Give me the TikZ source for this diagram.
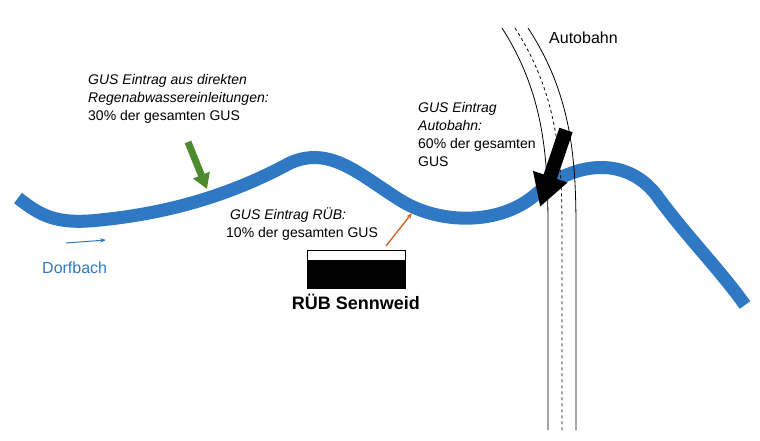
\documentclass[tikz,border=0pt]{standalone}
\usepackage{fontspec}
\setmainfont{Liberation Sans}
\usetikzlibrary{arrows.meta,positioning}
\definecolor{riverblue}{HTML}{2F78C4}
\definecolor{gusgreen}{HTML}{4E8A2E}
\definecolor{rueborange}{HTML}{D0601E}
\tikzset{
  lbl/.style={font=\fontsize{14}{18}\selectfont,align=left,inner sep=0pt},
  road/.style={thick,black},
}
\begin{document}
\begin{tikzpicture}[x=1pt,y=-1pt]
  \useasboundingbox (0,0) rectangle (760,440);
  % River
  \draw[riverblue,line width=13pt] (18,198) .. controls (40,215) and (55,225) .. (100,220)
    .. controls (180,212) and (240,190) .. (290,163)
    .. controls (330,145) and (360,175) .. (400,200)
    .. controls (440,225) and (500,225) .. (535,195)
    .. controls (575,160) and (630,155) .. (660,200)
    .. controls (690,240) and (720,270) .. (745,305);
  % Road
  \draw[road] (502,28) .. controls (545,95) and (548,160) .. (548,230) -- (548,430);
  \draw[road,dashed] (515,28) .. controls (558,95) and (562,160) .. (562,230) -- (562,430);
  \draw[road] (528,28) .. controls (572,95) and (576,160) .. (576,230) -- (576,430);
  % Nodes
  \node[lbl,anchor=north west] (direkt) at (88,74) {\textit{GUS Eintrag aus direkten}\\\textit{Regenabwassereinleitungen:}\\30\% der gesamten GUS};
  \node[lbl,anchor=north west] (autob) at (418,102) {\textit{GUS Eintrag}\\\textit{Autobahn:}\\60\% der gesamten\\GUS};
  \node[lbl,anchor=north west] (rueb) at (226,208) {\ \textit{GUS Eintrag RÜB:}\\10\% der gesamten GUS};
  \node[lbl,anchor=west,text=riverblue,font=\fontsize{16}{18}\selectfont] (dorf) at (42,268) {Dorfbach};
  \node[lbl,anchor=west,font=\fontsize{16}{18}\selectfont] (autolbl) at (549,38) {Autobahn};
  \node[draw,fill=black,minimum width=98pt,minimum height=38pt,inner sep=0pt] (box) at (356,269) {};
  \node[draw,fill=white,minimum width=98pt,minimum height=10pt,inner sep=0pt,anchor=north] (boxtop) at (box.north) {};
  \node[font=\bfseries\fontsize{18}{20}\selectfont,inner sep=0pt] (boxlbl) at (356,302) {RÜB Sennweid};
  % Inflow points
  \coordinate (g0) at (188,142); \coordinate (g1) at (207,189);
  \coordinate (b0) at (566,130); \coordinate (b1) at (540,207);
  \coordinate (o0) at (386,246); \coordinate (o1) at (412,213);
  \coordinate (f0) at (66,243);  \coordinate (f1) at (106,240);
  % Arrows
  \draw[gusgreen,line width=7pt,-{Triangle[width=17pt,length=15pt]}] (g0) -- (g1);
  \draw[black,line width=14pt,-{Triangle[width=34pt,length=32pt]}] (b0) -- (b1);
  \draw[rueborange,line width=1.3pt,-{Stealth[length=6pt]}] (o0) -- (o1);
  \draw[riverblue,line width=1pt,-{Stealth[length=6pt]}] (f0) -- (f1);
\end{tikzpicture}
\end{document}
